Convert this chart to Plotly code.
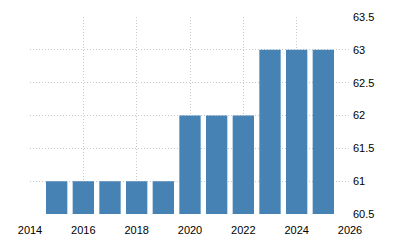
import plotly.graph_objects as go

years = [2015, 2016, 2017, 2018, 2019, 2020, 2021, 2022, 2023, 2024, 2025]
values = [61, 61, 61, 61, 61, 62, 62, 62, 63, 63, 63]
x_ticks = [2014, 2016, 2018, 2020, 2022, 2024, 2026]
y_ticks = [60.5, 61, 61.5, 62, 62.5, 63, 63.5]

fig = go.Figure(go.Bar(x=years, y=values, marker_color="#4682B4", marker_line_width=0))

fig.update_layout(
    width=400, height=250,
    margin=dict(l=30, r=50, t=17, b=36),
    paper_bgcolor="white", plot_bgcolor="white",
    bargap=0.2, showlegend=False,
    font=dict(family="Liberation Sans", size=11, color="#000"),
)
fig.update_xaxes(
    range=[2014, 2026], tickvals=x_ticks, ticktext=[str(v) for v in x_ticks],
    showgrid=True, gridcolor="#c8c8c8", griddash="1px,2px", gridwidth=1,
    zeroline=False, showline=False, ticks="", ticklabelstandoff=8,
)
fig.update_yaxes(
    range=[60.5, 63.5], tickvals=y_ticks, ticktext=[f"{v:g}" for v in y_ticks],
    side="right", showgrid=True, gridcolor="#c8c8c8", griddash="1px,2px", gridwidth=1,
    zeroline=False, showline=False, ticks="", ticklabelstandoff=2,
)

fig.write_html("out.html")
